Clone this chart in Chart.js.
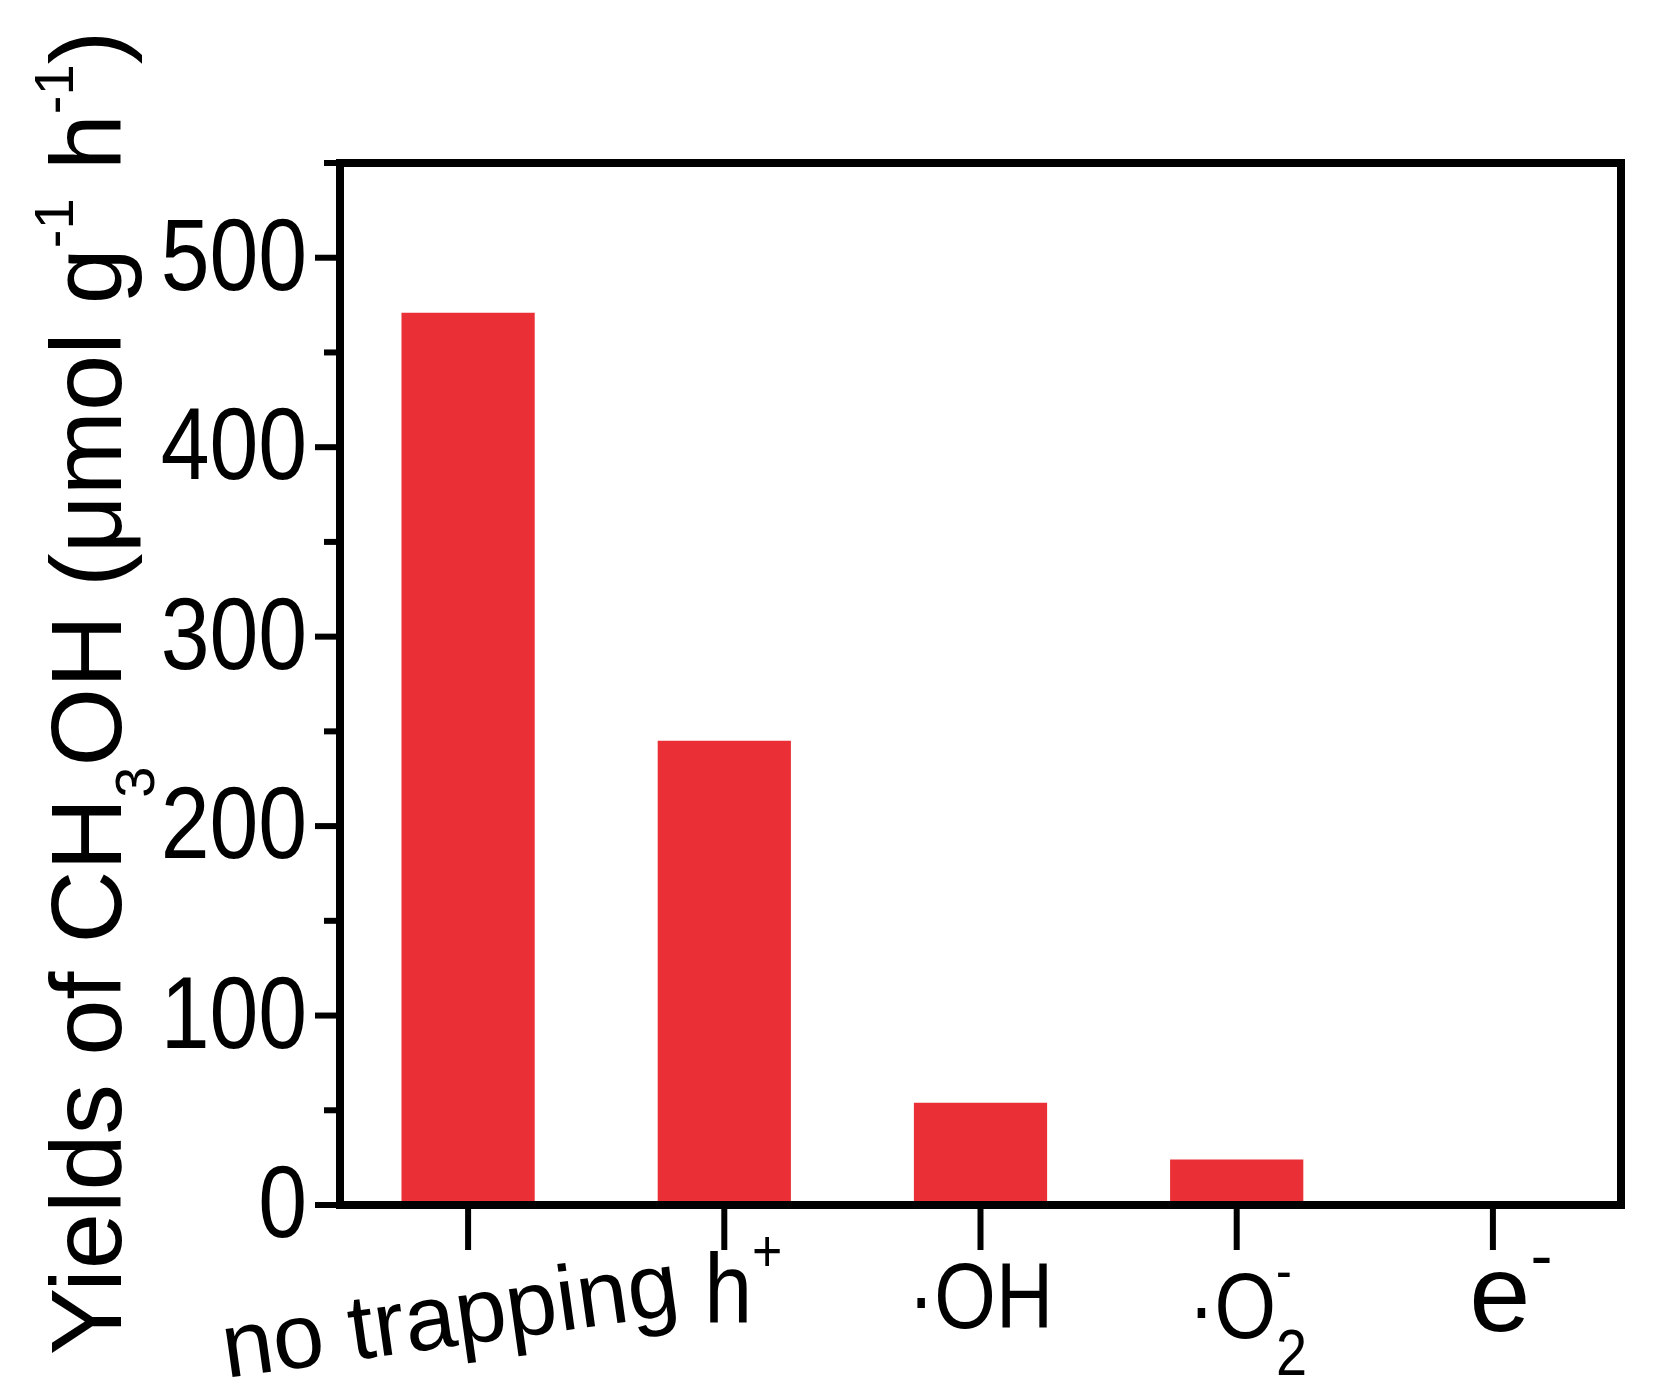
<!DOCTYPE html>
<html>
<head>
<meta charset="utf-8">
<title>Yields of CH3OH with scavengers</title>
<script src="https://cdn.jsdelivr.net/npm/chart.js@4.4.0/dist/chart.umd.min.js"></script>
<style>
  html, body { margin: 0; padding: 0; background: #fff; }
  canvas { display: block; }
</style>
</head>
<body>
<canvas id="chart" width="1673" height="1390"></canvas>
<script>
// data
var categories = ['no trapping', 'h^+', '·OH', '·O_2^-', 'e^-'];
var yields = [471, 245, 54, 24, 0];
var yMajorTicks = [0, 100, 200, 300, 400, 500];
var yMinorTicks = [50, 150, 250, 350, 450, 550];
var yTitle = 'Yields of CH_3OH (μmol g^{-1} h^{-1})';

var SANS = "'Liberation Sans', Arial, sans-serif";

// per-label placement under the axis (baseline offset, rotation, size, squeeze)
var labelStyle = [
    {dy: 141, dx: -14, rot: -8, size: 92, sx: 1.0},
    {dy: 117, dx: 19, rot: 0, size: 98, sx: 0.88, supScale: 0.6, supRise: 0.52},
    {dy: 123, dx: 0, rot: 0, size: 92, sx: 0.86},
    {dy: 133, dx: 11, rot: 0, size: 92, sx: 0.86, supScale: 0.6, supRise: 0.52, subScale: 0.71, subDrop: 0.4},
    {dy: 126, dx: 18, rot: 0, size: 110, sx: 1.0, supScale: 0.6, supRise: 0.48}
];
var labelScripts = {supScale: 0.6, supRise: 0.5, subScale: 0.7, subDrop: 0.42};
var titleScripts = {supScale: 0.55, supRise: 0.48, subScale: 0.55, subDrop: 0.33};

// turns "CH_3OH g^{-1}" into plain / sub / sup pieces
function parseRich(str) {
    var out = [], i = 0, buf = '';
    function flush() { if (buf) { out.push({kind: 'n', text: buf}); buf = ''; } }
    while (i < str.length) {
        var c = str[i];
        if (c === '^' || c === '_') {
            flush();
            var txt;
            if (str[i + 1] === '{') {
                var end = str.indexOf('}', i + 2);
                txt = str.substring(i + 2, end);
                i = end + 1;
            } else {
                txt = str[i + 1];
                i += 2;
            }
            var kind = c === '^' ? 'sup' : 'sub';
            var prev = out[out.length - 1];
            if (prev && ((prev.kind === 'sub' && kind === 'sup') || (prev.kind === 'sup' && kind === 'sub'))) {
                prev[prev.kind] = prev.text;
                prev[kind] = txt;
                prev.kind = 'stack';
            } else {
                out.push({kind: kind, text: txt});
            }
        } else {
            buf += c;
            i++;
        }
    }
    flush();
    return out;
}

function richWidth(ctx, segs, size, o) {
    var w = 0;
    segs.forEach(function (s) {
        if (s.kind === 'n') {
            ctx.font = size + 'px ' + SANS;
            w += ctx.measureText(s.text).width;
        } else if (s.kind === 'stack') {
            ctx.font = Math.round(size * o.subScale) + 'px ' + SANS;
            var a = ctx.measureText(s.sub).width;
            ctx.font = Math.round(size * o.supScale) + 'px ' + SANS;
            w += Math.max(a, ctx.measureText(s.sup).width);
        } else {
            ctx.font = Math.round(size * (s.kind === 'sup' ? o.supScale : o.subScale)) + 'px ' + SANS;
            w += ctx.measureText(s.text).width;
        }
    });
    return w;
}

function drawRich(ctx, segs, x, y, size, o) {
    ctx.textAlign = 'left';
    ctx.textBaseline = 'alphabetic';
    segs.forEach(function (s) {
        if (s.kind === 'n') {
            ctx.font = size + 'px ' + SANS;
            ctx.fillText(s.text, x, y);
            x += ctx.measureText(s.text).width;
        } else if (s.kind === 'stack') {
            ctx.font = Math.round(size * o.subScale) + 'px ' + SANS;
            ctx.fillText(s.sub, x, y + size * o.subDrop);
            var a = ctx.measureText(s.sub).width;
            ctx.font = Math.round(size * o.supScale) + 'px ' + SANS;
            ctx.fillText(s.sup, x, y - size * o.supRise);
            x += Math.max(a, ctx.measureText(s.sup).width);
        } else {
            var sup = s.kind === 'sup';
            ctx.font = Math.round(size * (sup ? o.supScale : o.subScale)) + 'px ' + SANS;
            ctx.fillText(s.text, x, sup ? y - size * o.supRise : y + size * o.subDrop);
            x += ctx.measureText(s.text).width;
        }
    });
}

var figureDecor = {
    id: 'figureDecor',
    afterDatasetsDraw: function (chart) {
        var ctx = chart.ctx, a = chart.chartArea;
        var xs = chart.scales.x, ys = chart.scales.y;
        ctx.save();
        ctx.strokeStyle = '#000';
        ctx.fillStyle = '#000';

        // y ticks, outward
        ctx.lineWidth = 6;
        ctx.lineCap = 'butt';
        yMajorTicks.forEach(function (v) {
            var py = ys.getPixelForValue(v);
            ctx.beginPath(); ctx.moveTo(a.left - 25, py); ctx.lineTo(a.left, py); ctx.stroke();
        });
        yMinorTicks.forEach(function (v) {
            var py = ys.getPixelForValue(v);
            ctx.beginPath(); ctx.moveTo(a.left - 16, py); ctx.lineTo(a.left, py); ctx.stroke();
        });

        // x ticks, outward
        categories.forEach(function (c, i) {
            var px = xs.getPixelForValue(i);
            ctx.beginPath(); ctx.moveTo(px, a.bottom); ctx.lineTo(px, a.bottom + 45); ctx.stroke();
        });

        // frame
        ctx.lineWidth = 8;
        ctx.lineJoin = 'miter';
        ctx.strokeRect(a.left, a.top, a.right - a.left, a.bottom - a.top);

        // y tick labels (slightly condensed digits)
        ctx.font = '102px ' + SANS;
        ctx.textAlign = 'right';
        ctx.textBaseline = 'alphabetic';
        yMajorTicks.forEach(function (v) {
            var py = ys.getPixelForValue(v);
            ctx.save();
            ctx.translate(a.left - 33, py + 32);
            ctx.scale(0.86, 1);
            ctx.fillText(String(v), 0, 0);
            ctx.restore();
        });

        // category labels
        categories.forEach(function (c, i) {
            var st = labelStyle[i];
            var o = Object.assign({}, labelScripts, st);
            var segs = parseRich(c);
            var w = richWidth(ctx, segs, st.size, o);
            var px = xs.getPixelForValue(i) + st.dx;
            ctx.save();
            ctx.translate(px, a.bottom + st.dy);
            ctx.rotate(st.rot * Math.PI / 180);
            ctx.scale(st.sx, 1);
            drawRich(ctx, segs, -w / 2, 0, st.size, o);
            ctx.restore();
        });

        // y title
        var tSegs = parseRich(yTitle);
        var tw = richWidth(ctx, tSegs, 101, titleScripts);
        ctx.save();
        ctx.translate(121, 693);
        ctx.rotate(-Math.PI / 2);
        drawRich(ctx, tSegs, -tw / 2, 0, 101, titleScripts);
        ctx.restore();

        ctx.restore();
    }
};

new Chart(document.getElementById('chart').getContext('2d'), {
    type: 'bar',
    data: {
        labels: categories,
        datasets: [{
            data: yields,
            backgroundColor: '#ea3036',
            borderWidth: 0,
            barPercentage: 0.52,
            categoryPercentage: 1
        }]
    },
    options: {
        responsive: false,
        devicePixelRatio: 1,
        animation: false,
        layout: {padding: {top: 163, right: 52, left: 0, bottom: 0}},
        plugins: {legend: {display: false}, tooltip: {enabled: false}},
        scales: {
            x: {
                type: 'category',
                offset: true,
                grid: {display: false},
                border: {display: false},
                ticks: {display: false},
                afterFit: function (s) { s.height = 185; }
            },
            y: {
                min: 0,
                max: 550,
                grid: {display: false, drawTicks: false},
                border: {display: false},
                ticks: {display: false, stepSize: 50},
                afterFit: function (s) { s.width = 340; }
            }
        }
    },
    plugins: [figureDecor]
});
</script>
</body>
</html>
